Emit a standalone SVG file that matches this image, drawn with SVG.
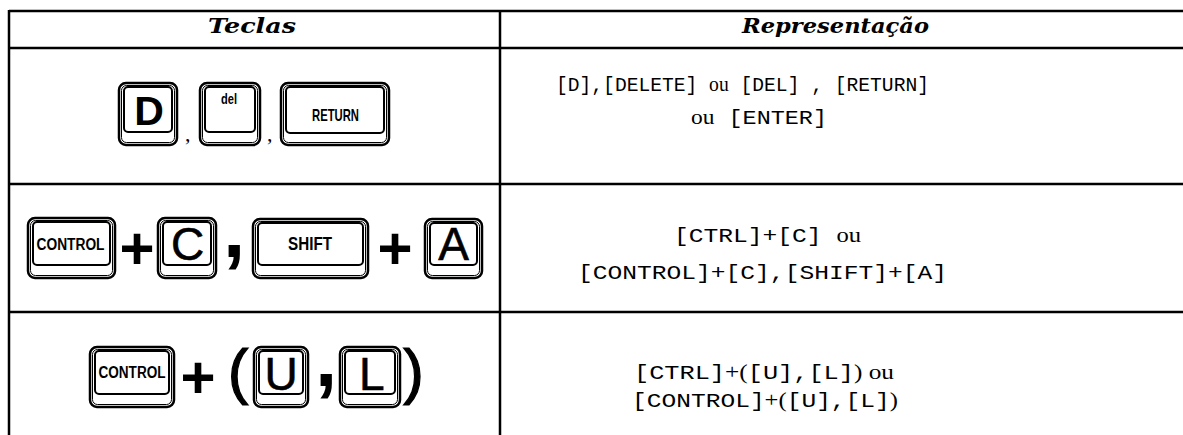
<svg xmlns="http://www.w3.org/2000/svg" width="1183" height="435" viewBox="0 0 1183 435">
<style>
.ln{stroke:#000;stroke-width:2.5;fill:none}
.ko{fill:#fff;stroke:#000;stroke-width:2.5}
.kr{fill:none;stroke:#000;stroke-width:1}
.kf{fill:#fff;stroke:#000;stroke-width:2}
.hdr{font-family:"DejaVu Serif","Liberation Serif",serif;font-weight:bold;font-style:italic;font-size:20px;fill:#000}
.mono{font-family:"Liberation Mono","Courier New",monospace;font-size:21px;fill:#000}
.srf{font-family:"Liberation Serif","Times New Roman",serif}
.kb{font-family:"Liberation Sans",Arial,sans-serif;font-weight:bold;fill:#000}
.kn{font-family:"Liberation Sans",Arial,sans-serif;font-weight:normal;fill:#000;stroke:#000;stroke-width:0.6}
.sym{font-family:"Liberation Sans",Arial,sans-serif;font-weight:bold;fill:#000}
.par{font-family:"Liberation Sans",Arial,sans-serif;font-weight:normal;fill:#000;stroke:#000;stroke-width:1.2}
.cm{font-family:"Liberation Serif","Times New Roman",serif;font-size:22px;fill:#000}
</style>
<rect width="1183" height="435" fill="#fff"/>
<g id="table-lines">
<line class="ln" x1="9" y1="11" x2="1183" y2="11"/>
<line class="ln" x1="9" y1="48" x2="1183" y2="48"/>
<line class="ln" x1="9" y1="184" x2="1183" y2="184"/>
<line class="ln" x1="9" y1="312" x2="1183" y2="312"/>
<line class="ln" x1="9" y1="10" x2="9" y2="435"/>
<line class="ln" x1="500" y1="10" x2="500" y2="435"/>
</g>
<g id="header">
<text class="hdr" x="208" y="33" textLength="88" lengthAdjust="spacingAndGlyphs">Teclas</text>
<text class="hdr" x="742" y="33" textLength="187" lengthAdjust="spacingAndGlyphs">Representação</text>
</g>
<g id="row1-keys">
<g id="key-D">
<rect class="ko" x="119" y="83" width="58" height="62" rx="7"/>
<rect class="kr" x="121.5" y="85.5" width="53" height="57" rx="5"/>
<rect class="kf" x="124" y="87" width="48" height="45" rx="4"/>
<text class="kb" x="149" y="125" font-size="41" text-anchor="middle">D</text>
</g>
<text class="cm" x="185" y="141">,</text>
<g id="key-del">
<rect class="ko" x="200" y="83" width="60" height="62" rx="7"/>
<rect class="kr" x="202.5" y="85.5" width="55" height="57" rx="5"/>
<rect class="kf" x="205" y="87" width="50" height="45" rx="4"/>
<text class="kb" x="229" y="104" font-size="14" text-anchor="middle" textLength="16" lengthAdjust="spacingAndGlyphs">del</text>
</g>
<text class="cm" x="267" y="141">,</text>
<g id="key-RETURN">
<rect class="ko" x="281" y="83" width="108" height="62" rx="7"/>
<rect class="kr" x="283.5" y="85.5" width="103" height="57" rx="5"/>
<rect class="kf" x="286" y="87" width="98" height="46" rx="4"/>
<text class="kb" x="335.5" y="121" font-size="17" text-anchor="middle" textLength="47" lengthAdjust="spacingAndGlyphs">RETURN</text>
</g>
</g>
<g id="row2-keys">
<g id="key-CONTROL-1">
<rect class="ko" x="28" y="218" width="87" height="60" rx="7"/>
<rect class="kr" x="30.5" y="220.5" width="82" height="55" rx="5"/>
<rect class="kf" x="33" y="222" width="77" height="43" rx="4"/>
<text class="kb" x="70.5" y="250" font-size="16" text-anchor="middle" textLength="68" lengthAdjust="spacingAndGlyphs">CONTROL</text>
</g>
<text class="sym" x="137" y="269" font-size="60" text-anchor="middle">+</text>
<g id="key-C">
<rect class="ko" x="158" y="218" width="58" height="60" rx="7"/>
<rect class="kr" x="160.5" y="220.5" width="53" height="55" rx="5"/>
<rect class="kf" x="163" y="222" width="48" height="43" rx="4"/>
<text class="kn" x="187.5" y="260" font-size="46" text-anchor="middle">C</text>
</g>
<text class="sym" x="234" y="257" font-size="80" text-anchor="middle">,</text>
<g id="key-SHIFT">
<rect class="ko" x="253" y="219" width="115" height="59" rx="7"/>
<rect class="kr" x="255.5" y="221.5" width="110" height="54" rx="5"/>
<rect class="kf" x="258" y="223" width="105" height="42" rx="4"/>
<text class="kb" x="310" y="250" font-size="18" text-anchor="middle" textLength="44" lengthAdjust="spacingAndGlyphs">SHIFT</text>
</g>
<text class="sym" x="395" y="269" font-size="60" text-anchor="middle">+</text>
<g id="key-A">
<rect class="ko" x="425" y="219" width="57" height="59" rx="7"/>
<rect class="kr" x="427.5" y="221.5" width="52" height="54" rx="5"/>
<rect class="kf" x="430" y="223" width="47" height="42" rx="4"/>
<text class="kn" x="453.5" y="260" font-size="46" text-anchor="middle">A</text>
</g>
</g>
<g id="row3-keys">
<g id="key-CONTROL-2">
<rect class="ko" x="90" y="347" width="84" height="60" rx="7"/>
<rect class="kr" x="92.5" y="349.5" width="79" height="55" rx="5"/>
<rect class="kf" x="95" y="351" width="74" height="43" rx="4"/>
<text class="kb" x="132" y="378" font-size="16" text-anchor="middle" textLength="67" lengthAdjust="spacingAndGlyphs">CONTROL</text>
</g>
<text class="sym" x="198" y="398" font-size="60" text-anchor="middle">+</text>
<text class="par" x="238" y="392" font-size="62" text-anchor="middle">(</text>
<g id="key-U">
<rect class="ko" x="254" y="347" width="54" height="60" rx="7"/>
<rect class="kr" x="256.5" y="349.5" width="49" height="55" rx="5"/>
<rect class="kf" x="259" y="351" width="44" height="43" rx="4"/>
<text class="kn" x="281" y="390" font-size="46" text-anchor="middle">U</text>
</g>
<text class="sym" x="326" y="386" font-size="80" text-anchor="middle">,</text>
<g id="key-L">
<rect class="ko" x="340" y="347" width="60" height="60" rx="7"/>
<rect class="kr" x="342.5" y="349.5" width="55" height="55" rx="5"/>
<rect class="kf" x="345" y="351" width="50" height="43" rx="4"/>
<text class="kn" x="359" y="390" font-size="46">L</text>
</g>
<text class="par" x="413.5" y="392" font-size="62" text-anchor="middle">)</text>
</g>
<g id="representations">
<text class="mono" x="556" y="91" textLength="373" lengthAdjust="spacingAndGlyphs">[D],[DELETE] <tspan class="srf">ou</tspan> [DEL] , [RETURN]</text>
<text class="mono" x="691" y="124" textLength="136" lengthAdjust="spacingAndGlyphs"><tspan class="srf">ou</tspan> [ENTER]</text>
<text class="mono" x="674" y="242" textLength="187" lengthAdjust="spacingAndGlyphs">[CTRL]+[C] <tspan class="srf">ou</tspan></text>
<text class="mono" x="578" y="279" textLength="369" lengthAdjust="spacingAndGlyphs">[CONTROL]+[C],[SHIFT]+[A]</text>
<text class="mono" x="634" y="379" textLength="260" lengthAdjust="spacingAndGlyphs">[CTRL]<tspan class="srf">+(</tspan>[U],[L]<tspan class="srf">) ou</tspan></text>
<text class="mono" x="632" y="407" textLength="266" lengthAdjust="spacingAndGlyphs">[CONTROL]<tspan class="srf">+(</tspan>[U],[L]<tspan class="srf">)</tspan></text>
</g>
</svg>
